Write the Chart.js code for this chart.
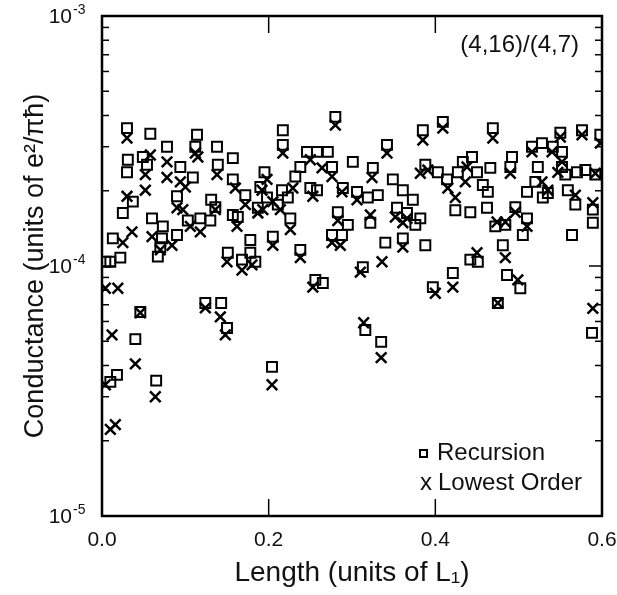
<!DOCTYPE html>
<html>
<head>
<meta charset="utf-8">
<script src="https://cdn.jsdelivr.net/npm/chart.js@4/dist/chart.umd.min.js"></script>
<style>
  html, body { margin: 0; padding: 0; background: #fff; }
  canvas { display: block; }
</style>
</head>
<body>
<canvas id="cond" width="617" height="595"></canvas>
<script>
// Recursion (squares): length in units of L1, conductance in units of 1e-4 e^2/(pi hbar)
const recLength = [0.004, 0.010, 0.010, 0.013, 0.018, 0.022, 0.025, 0.030, 0.030, 0.031, 0.037, 0.040, 0.046, 0.049, 0.054, 0.058, 0.060, 0.065, 0.067, 0.070,
  0.072, 0.073, 0.078, 0.090, 0.090, 0.094, 0.103, 0.109, 0.112, 0.114, 0.118, 0.124, 0.130, 0.131, 0.136, 0.138, 0.139, 0.143, 0.150, 0.151,
  0.157, 0.157, 0.157, 0.163, 0.168, 0.172, 0.178, 0.178, 0.184, 0.187, 0.190, 0.195, 0.198, 0.204, 0.205, 0.211, 0.216, 0.217, 0.217, 0.223,
  0.226, 0.232, 0.238, 0.238, 0.246, 0.250, 0.256, 0.258, 0.258, 0.265, 0.271, 0.276, 0.276, 0.280, 0.283, 0.288, 0.289, 0.295, 0.301, 0.306,
  0.313, 0.316, 0.319, 0.322, 0.325, 0.331, 0.335, 0.340, 0.342, 0.349, 0.354, 0.361, 0.361, 0.366, 0.373, 0.376, 0.382, 0.385, 0.388, 0.388,
  0.397, 0.403, 0.409, 0.414, 0.421, 0.424, 0.427, 0.433, 0.442, 0.442, 0.444, 0.450, 0.451, 0.457, 0.462, 0.463, 0.466, 0.469, 0.472, 0.475,
  0.481, 0.484, 0.486, 0.490, 0.492, 0.496, 0.502, 0.505, 0.510, 0.510, 0.516, 0.520, 0.523, 0.528, 0.529, 0.535, 0.541, 0.550, 0.552, 0.552,
  0.556, 0.559, 0.564, 0.568, 0.570, 0.576, 0.580, 0.588, 0.589, 0.589, 0.592, 0.598];
const recG = [1.04, 1.04, 0.344, 1.29, 0.367, 1.08, 1.63, 3.56, 2.37, 2.66, 1.81, 0.51, 0.655, 2.73, 2.54, 3.38, 1.55, 0.348, 1.09, 1.19,
  1.29, 1.44, 3.00, 1.90, 1.33, 2.49, 1.52, 2.26, 3.00, 3.35, 1.55, 0.711, 1.52, 1.84, 1.72, 3.00, 2.54, 0.711, 0.565, 1.13,
  2.70, 2.22, 1.60, 1.57, 1.06, 1.92, 1.27, 1.13, 1.04, 1.71, 2.07, 2.37, 1.88, 0.395, 1.31, 1.76, 2.01, 3.49, 3.05, 1.88,
  1.55, 2.28, 2.49, 1.16, 2.86, 2.05, 0.88, 2.86, 2.01, 0.855, 2.86, 2.49, 1.33, 3.95, 1.64, 1.33, 2.05, 1.46, 2.61, 1.98,
  0.99, 0.555, 1.88, 1.49, 2.47, 1.92, 0.497, 1.24, 3.05, 2.22, 1.71, 2.01, 1.29, 1.63, 1.84, 1.46, 1.55, 3.49, 2.54, 1.21,
  0.823, 2.37, 3.77, 2.22, 0.937, 1.67, 2.37, 2.61, 1.64, 1.06, 2.73, 2.37, 1.04, 2.11, 1.71, 1.98, 2.47, 3.56, 1.44, 0.711,
  1.21, 1.46, 0.92, 2.49, 2.73, 1.72, 0.815, 1.33, 1.98, 1.55, 3.00, 2.17, 2.49, 3.10, 1.88, 1.96, 3.00, 3.41, 2.86, 2.49,
  2.32, 2.01, 1.33, 1.76, 2.37, 3.49, 2.42, 0.54, 1.68, 1.49, 2.32, 3.35];

// Lowest order (crosses)
const lowLength = [0.004, 0.004, 0.010, 0.012, 0.016, 0.019, 0.025, 0.030, 0.030, 0.036, 0.040, 0.046, 0.052, 0.052, 0.058, 0.060, 0.064, 0.070, 0.078, 0.078,
  0.084, 0.090, 0.094, 0.097, 0.100, 0.106, 0.112, 0.115, 0.118, 0.124, 0.136, 0.138, 0.142, 0.148, 0.150, 0.160, 0.162, 0.168, 0.172, 0.180,
  0.187, 0.192, 0.193, 0.198, 0.204, 0.205, 0.205, 0.214, 0.217, 0.226, 0.229, 0.238, 0.250, 0.253, 0.253, 0.264, 0.276, 0.276, 0.280, 0.283,
  0.286, 0.288, 0.306, 0.310, 0.314, 0.322, 0.324, 0.335, 0.336, 0.342, 0.352, 0.361, 0.361, 0.366, 0.382, 0.385, 0.391, 0.400, 0.409, 0.415,
  0.421, 0.424, 0.436, 0.438, 0.450, 0.469, 0.474, 0.475, 0.484, 0.484, 0.490, 0.496, 0.499, 0.510, 0.516, 0.528, 0.535, 0.540, 0.547, 0.550,
  0.552, 0.568, 0.576, 0.589, 0.589, 0.592, 0.598];
const lowG = [0.815, 0.335, 0.222, 0.53, 0.232, 0.815, 1.24, 3.25, 1.90, 1.37, 0.406, 0.65, 2.32, 2.01, 2.78, 1.31, 0.30, 1.16, 2.61, 2.26,
  1.21, 1.71, 2.17, 1.68, 2.07, 1.44, 2.83, 2.73, 1.37, 0.68, 1.68, 2.32, 0.626, 0.53, 1.04, 2.05, 1.44, 0.963, 1.76, 1.01,
  1.63, 2.01, 1.68, 2.22, 0.335, 1.81, 1.21, 1.68, 2.83, 1.40, 2.05, 1.08, 2.66, 1.90, 0.823, 2.47, 2.28, 1.24, 3.66, 1.52,
  1.21, 1.98, 1.84, 0.945, 0.593, 1.60, 2.26, 0.43, 1.04, 2.83, 1.57, 1.49, 1.19, 1.55, 2.35, 3.19, 2.42, 0.778, 3.56, 2.05,
  0.823, 1.88, 2.17, 2.49, 1.13, 3.25, 1.50, 0.711, 1.50, 1.08, 2.35, 1.64, 0.88, 1.44, 2.86, 2.17, 2.01, 2.86, 2.37, 3.28,
  2.61, 1.92, 3.35, 1.79, 0.677, 2.35, 3.10];

const xTickValues = [0, 0.2, 0.4, 0.6];
const yDecades = [-5, -4, -3];
const FONT = '"Liberation Sans", Arial, Helvetica, sans-serif';
const INK = '#111';

const toPoints = (xs, gs) => xs.map((x, i) => ({ x, y: gs[i] * 1e-4 }));

// frame, inward ticks, y labels with superscripts, inset label and legend
const decorations = {
  id: 'decorations',
  afterDraw(chart) {
    const { ctx, chartArea: a, scales: { x, y } } = chart;
    const line = (x1, y1, x2, y2) => { ctx.beginPath(); ctx.moveTo(x1, y1); ctx.lineTo(x2, y2); ctx.stroke(); };
    ctx.save();
    ctx.strokeStyle = '#000';
    ctx.lineWidth = 1.5;

    xTickValues.forEach(v => {
      const px = x.getPixelForValue(v);
      line(px, a.bottom, px, a.bottom - 17);
      line(px, a.top, px, a.top + 17);
    });

    yDecades.forEach(d => {
      const base = Math.pow(10, d);
      const py = y.getPixelForValue(base);
      line(a.left, py, a.left + 13, py);
      line(a.right, py, a.right - 13, py);
      if (d < -3) {
        for (let m = 2; m <= 9; m++) {
          const pm = y.getPixelForValue(m * base);
          line(a.left, pm, a.left + 7, pm);
          line(a.right, pm, a.right - 7, pm);
        }
      }
      ctx.fillStyle = INK;
      ctx.textBaseline = 'middle';
      ctx.font = '21px ' + FONT;
      ctx.textAlign = 'right';
      ctx.fillText('10', 72, py + 1);
      ctx.font = '14px ' + FONT;
      ctx.textAlign = 'left';
      ctx.fillText(String(d), 73, py - 6);
    });

    ctx.lineWidth = 2.5;
    ctx.strokeRect(a.left, a.top, a.right - a.left, a.bottom - a.top);

    ctx.fillStyle = INK;
    ctx.font = '24px ' + FONT;
    ctx.textAlign = 'right';
    ctx.textBaseline = 'middle';
    ctx.fillText('(4,16)/(4,7)', 579, 45);

    // legend
    ctx.lineWidth = 2;
    ctx.strokeRect(420, 450, 7, 7);
    ctx.font = '24px ' + FONT;
    ctx.textBaseline = 'alphabetic';
    ctx.textAlign = 'left';
    ctx.fillText('Recursion', 437, 460);
    ctx.textAlign = 'center';
    ctx.fillText('x', 426, 490);
    ctx.textAlign = 'left';
    ctx.fillText('Lowest Order', 438, 490);
    ctx.restore();
  }
};

new Chart(document.getElementById('cond'), {
  type: 'scatter',
  data: {
    datasets: [
      {
        label: 'Recursion',
        data: toPoints(recLength, recG),
        pointStyle: 'rect',
        pointRadius: 7,
        borderColor: '#000',
        borderWidth: 2,
        backgroundColor: 'rgba(0,0,0,0)'
      },
      {
        label: 'Lowest Order',
        data: toPoints(lowLength, lowG),
        pointStyle: 'crossRot',
        pointRadius: 7.5,
        borderColor: '#000',
        borderWidth: 2.5,
        backgroundColor: '#000'
      }
    ]
  },
  options: {
    responsive: false,
    animation: false,
    layout: { padding: { top: 16, right: 15, left: 0, bottom: 0 } },
    plugins: { legend: { display: false }, tooltip: { enabled: false } },
    scales: {
      x: {
        type: 'linear',
        min: 0,
        max: 0.6,
        grid: { display: false },
        border: { display: false },
        afterBuildTicks: s => { s.ticks = xTickValues.map(v => ({ value: v })); },
        ticks: {
          callback: v => v.toFixed(1),
          font: { family: FONT, size: 21 },
          color: INK,
          padding: 4,
          maxRotation: 0
        },
        title: {
          display: true,
          text: 'Length (units of L₁)',
          font: { family: FONT, size: 28 },
          color: INK,
          padding: { top: 0, bottom: 5 }
        },
        afterFit: s => { s.height = 79; s.paddingLeft = 0; s.paddingRight = 0; }
      },
      y: {
        type: 'logarithmic',
        min: 1e-5,
        max: 1e-3,
        grid: { display: false },
        border: { display: false },
        ticks: { display: false },
        title: {
          display: true,
          text: 'Conductance (units of e²/πħ)',
          font: { family: FONT, size: 27 },
          color: INK,
          padding: { top: 19, bottom: 0 }
        },
        afterFit: s => { s.width = 102; }
      }
    }
  },
  plugins: [decorations]
});
</script>
</body>
</html>
